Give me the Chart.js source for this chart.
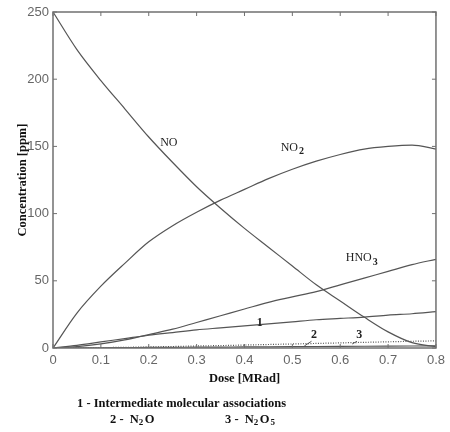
<!DOCTYPE html>
<html lang="en">
<head>
  <meta charset="UTF-8" />
  <title>Concentration vs Dose</title>
  <script src="https://cdn.jsdelivr.net/npm/chart.js"></script>
  <style>
    html, body {
      margin: 0;
      padding: 0;
      background: #fff;
    }
    #wrap {
      width: 450px;
      height: 432px;
    }
  </style>
</head>
<body>
  <div id="wrap"><canvas id="doseChart" width="450" height="432"></canvas></div>

  <script>
    // dose values along x (MRad)
    const dose = [0, 0.05, 0.1, 0.15, 0.2, 0.25, 0.3, 0.35, 0.4, 0.45, 0.5, 0.55, 0.6, 0.65, 0.7, 0.75, 0.8];

    // concentrations (ppm)
    const no    = [250, 222, 199, 178, 157, 138, 120, 104, 89, 75, 61, 47, 35, 23, 12, 4, 1];
    const no2   = [0, 26, 46, 63, 79, 91, 101, 110, 118, 126, 133, 139, 144, 148, 150, 151, 148];
    const hno3  = [0, 1, 3, 6, 10, 14, 19, 24, 29, 34, 38, 42, 47, 52, 57, 62, 66];
    const assoc = [0, 2, 4.5, 7, 9.5, 11.5, 13.5, 15, 16.5, 18, 19.5, 21, 22, 23, 24.5, 25.5, 27];
    const n2o   = [0, 0.1, 0.2, 0.3, 0.4, 0.5, 0.6, 0.7, 0.8, 0.9, 1.0, 1.1, 1.2, 1.3, 1.4, 1.5, 1.6];
    const n2o5  = [0, 0.1, 0.3, 0.5, 0.8, 1.1, 1.5, 1.8, 2.2, 2.6, 3.0, 3.4, 3.8, 4.2, 4.6, 5.0, 5.3];

    const xTicks = [0, 0.1, 0.2, 0.3, 0.4, 0.5, 0.6, 0.7, 0.8];
    const yTicks = [0, 50, 100, 150, 200, 250];

    // curve labels: [text, subscript, dose, ppm]
    const curveLabels = [
      ['NO', '', 0.242, 153],
      ['NO', '2', 0.50, 149],
      ['HNO', '3', 0.645, 67],
      ['1', '', 0.432, 19],
      ['2', '', 0.545, 10],
      ['3', '', 0.64, 10]
    ];

    const lineColor = '#555';

    function series(values, dash) {
      return {
        data: dose.map((d, i) => ({ x: d, y: values[i] })),
        borderColor: lineColor,
        borderWidth: 1.2,
        borderDash: dash || [],
        pointRadius: 0,
        fill: false,
        cubicInterpolationMode: 'monotone'
      };
    }

    const framePlugin = {
      id: 'frame',
      afterDraw(chart) {
        const ctx = chart.ctx;
        const a = chart.chartArea;
        const xs = chart.scales.x;
        const ys = chart.scales.y;
        ctx.save();
        ctx.strokeStyle = '#707070';
        ctx.lineWidth = 1.5;
        ctx.strokeRect(a.left, a.top, a.right - a.left, a.bottom - a.top);
        ctx.lineWidth = 1;
        ctx.beginPath();
        xTicks.forEach(v => {
          const px = xs.getPixelForValue(v);
          ctx.moveTo(px, a.bottom); ctx.lineTo(px, a.bottom - 4);
          ctx.moveTo(px, a.top); ctx.lineTo(px, a.top + 4);
        });
        yTicks.forEach(v => {
          const py = ys.getPixelForValue(v);
          ctx.moveTo(a.left, py); ctx.lineTo(a.left + 4, py);
          ctx.moveTo(a.right, py); ctx.lineTo(a.right - 4, py);
        });
        ctx.stroke();

        // curve labels
        ctx.fillStyle = '#222';
        ctx.textBaseline = 'middle';
        curveLabels.forEach(([txt, sub, xv, yv]) => {
          const px = xs.getPixelForValue(xv);
          const py = ys.getPixelForValue(yv);
          const bold = txt.length === 1;
          ctx.font = (bold ? 'bold ' : '') + '12px "Liberation Serif", serif';
          const w = ctx.measureText(txt).width;
          const subW = sub ? 6 : 0;
          const x0 = px - (w + subW) / 2;
          ctx.textAlign = 'left';
          ctx.fillText(txt, x0, py);
          if (sub) {
            ctx.font = 'bold 10px "Liberation Serif", serif';
            ctx.fillText(sub, x0 + w + 1, py + 4);
          }
        });

        // small leaders for labels 2 and 3
        ctx.strokeStyle = '#555';
        ctx.beginPath();
        ctx.moveTo(xs.getPixelForValue(0.54), ys.getPixelForValue(5));
        ctx.lineTo(xs.getPixelForValue(0.525), ys.getPixelForValue(1.5));
        ctx.moveTo(xs.getPixelForValue(0.635), ys.getPixelForValue(5));
        ctx.lineTo(xs.getPixelForValue(0.625), ys.getPixelForValue(3));
        ctx.stroke();

        // footnote legend
        ctx.fillStyle = '#111';
        ctx.textAlign = 'left';
        ctx.font = 'bold 12.5px "Liberation Serif", serif';
        ctx.fillText('1 - Intermediate molecular associations', 77, 404);
        ctx.fillText('2 -  N', 110, 420);
        let w = ctx.measureText('2 -  N').width;
        ctx.font = 'bold 9px "Liberation Serif", serif';
        ctx.fillText('2', 110 + w, 423);
        ctx.font = 'bold 12.5px "Liberation Serif", serif';
        ctx.fillText('O', 110 + w + 6, 420);
        ctx.fillText('3 -  N', 225, 420);
        w = ctx.measureText('3 -  N').width;
        ctx.font = 'bold 9px "Liberation Serif", serif';
        ctx.fillText('2', 225 + w, 423);
        ctx.font = 'bold 12.5px "Liberation Serif", serif';
        ctx.fillText('O', 225 + w + 6, 420);
        const wo = ctx.measureText('O').width;
        ctx.font = 'bold 9px "Liberation Serif", serif';
        ctx.fillText('5', 225 + w + 6 + wo + 1, 423);
        ctx.restore();
      }
    };

    new Chart(document.getElementById('doseChart'), {
      type: 'line',
      data: {
        datasets: [
          series(no),
          series(no2),
          series(hno3),
          series(assoc),
          series(n2o),
          series(n2o5, [1, 1.5])
        ]
      },
      options: {
        responsive: false,
        animation: false,
        layout: { padding: { left: 15, right: 10, top: 12, bottom: 46 } },
        plugins: {
          legend: { display: false },
          tooltip: { enabled: false }
        },
        scales: {
          x: {
            type: 'linear',
            min: 0,
            max: 0.8,
            afterBuildTicks: s => { s.ticks = xTicks.map(v => ({ value: v })); },
            afterFit: s => { s.height = 38; },
            grid: { display: false, drawTicks: false },
            border: { display: false },
            ticks: {
              padding: 5,
              color: '#666',
              font: { family: '"Liberation Sans", Arial, sans-serif', size: 13 },
              callback: v => String(v)
            },
            title: {
              display: true,
              text: 'Dose [MRad]',
              color: '#111',
              padding: 0,
              font: { family: '"Liberation Serif", serif', size: 12.5, weight: 'bold' }
            }
          },
          y: {
            min: 0,
            max: 250,
            afterBuildTicks: s => { s.ticks = yTicks.map(v => ({ value: v })); },
            afterFit: s => { s.width = 38; },
            grid: { display: false, drawTicks: false },
            border: { display: false },
            ticks: {
              padding: 4,
              color: '#666',
              font: { family: '"Liberation Sans", Arial, sans-serif', size: 13 }
            },
            title: {
              display: true,
              text: 'Concentration [ppm]',
              color: '#111',
              padding: 0,
              font: { family: '"Liberation Serif", serif', size: 12.5, weight: 'bold' }
            }
          }
        }
      },
      plugins: [framePlugin]
    });
  </script>
</body>
</html>
